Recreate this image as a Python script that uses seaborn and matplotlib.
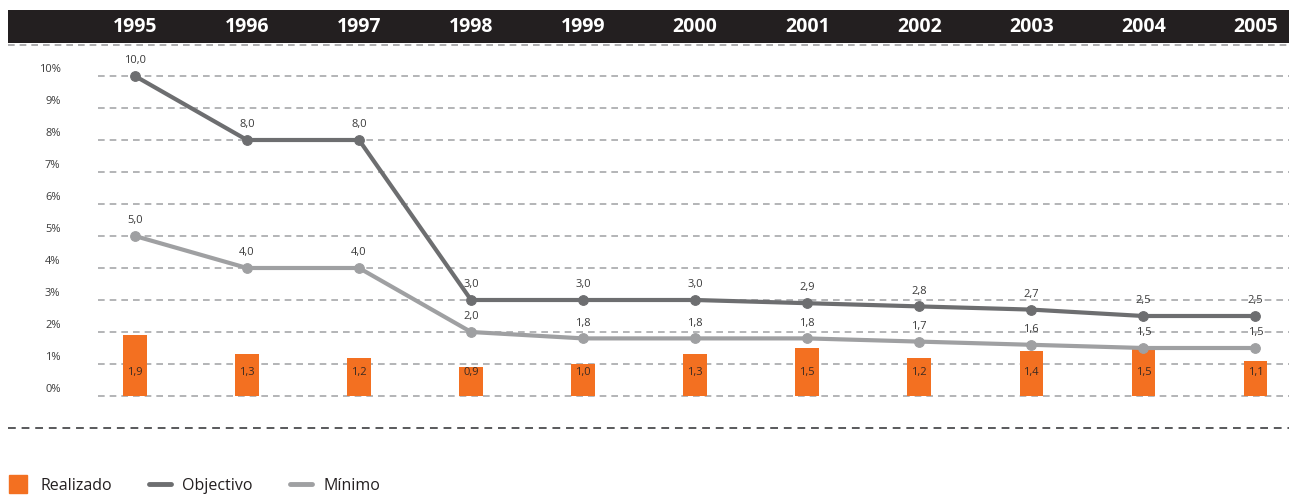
import matplotlib
matplotlib.use("Agg")
import matplotlib.pyplot as plt
import matplotlib.transforms as mtransforms
from matplotlib.lines import Line2D
from matplotlib.patches import Rectangle
import seaborn as sns
import pandas as pd

years = ["1995", "1996", "1997", "1998", "1999", "2000", "2001", "2002", "2003", "2004", "2005"]
realizado = [1.9, 1.3, 1.2, 0.9, 1.0, 1.3, 1.5, 1.2, 1.4, 1.5, 1.1]
objectivo = [10.0, 8.0, 8.0, 3.0, 3.0, 3.0, 2.9, 2.8, 2.7, 2.5, 2.5]
minimo = [5.0, 4.0, 4.0, 2.0, 1.8, 1.8, 1.8, 1.7, 1.6, 1.5, 1.5]
ytick_vals = [0, 1, 2, 3, 4, 5, 6, 7, 8, 9, 10]
ytick_labels = [f"{v}%" for v in ytick_vals]

ORANGE = "#F37021"
DARK = "#6D6E70"
LIGHT = "#9FA0A2"
HEADER = "#231F20"

sns.set_theme(style="white")
plt.rcParams["font.family"] = ["Open Sans", "DejaVu Sans"]

W, H = 1289, 495
fig = plt.figure(figsize=(W / 100, H / 100), dpi=100)
# axes: x from px 98 to 1289, y from px 44 to 428
ax = fig.add_axes([98 / W, 1 - 428 / H, (1289 - 98) / W, (428 - 44) / H])
ax.set_facecolor("none")

df = pd.DataFrame({"ano": years, "Realizado": realizado,
                   "Objectivo": objectivo, "Mínimo": minimo})
df["idx"] = range(len(years))

# grid lines
for v in ytick_vals:
    ax.axhline(v, color="#A7A8AA", lw=1.2, ls=(0, (4, 3)), zorder=0)

sns.barplot(data=df, x="ano", y="Realizado", color=ORANGE, width=0.21,
            saturation=1, ax=ax, zorder=2)
for p in ax.patches:
    p.set_edgecolor("none")

sns.lineplot(data=df, x="idx", y="Objectivo", color=DARK, lw=3, marker="o",
             markersize=7, markeredgecolor=DARK, ax=ax, zorder=3)
sns.lineplot(data=df, x="idx", y="Mínimo", color=LIGHT, lw=3, marker="o",
             markersize=7, markeredgecolor=LIGHT, ax=ax, zorder=3)

for i, v in enumerate(realizado):
    ax.text(i, 0.75, f"{v:.1f}".replace(".", ","), ha="center", va="center",
            fontsize=8, color="#3A2A22", zorder=4)
for vals in (objectivo, minimo):
    for i, v in enumerate(vals):
        ax.annotate(f"{v:.1f}".replace(".", ","), (i, v), xytext=(0, 7),
                    textcoords="offset points", ha="center", va="bottom",
                    fontsize=8, color="#3A3A3A", zorder=4)

ax.set_xlim(-0.33, 10.30)
ax.set_ylim(-1, 11)
ax.set_yticks(ytick_vals)
ax.set_yticklabels(ytick_labels, fontsize=8, color="#3A3A3A")
ax.tick_params(axis="y", length=0, pad=27)
up = mtransforms.ScaledTranslation(0, 8 / 100, fig.dpi_scale_trans)
for lab in ax.get_yticklabels():
    lab.set_horizontalalignment("right")
    lab.set_transform(lab.get_transform() + up)
ax.set_xticks([])
ax.set_xlabel("")
ax.set_ylabel("")
for s in ax.spines.values():
    s.set_visible(False)

# header band
fig.patches.append(Rectangle((8 / W, 1 - 43 / H), (W - 8) / W, 33 / H,
                             transform=fig.transFigure, facecolor=HEADER,
                             edgecolor="none", zorder=0))
trans = mtransforms.blended_transform_factory(ax.transData, fig.transFigure)
for i, y in enumerate(years):
    fig.text(i, 1 - 27 / H, y, transform=trans, ha="center", va="center",
             fontsize=14, fontweight="bold", color="white", zorder=5)

# dashed separator lines
fig.add_artist(Line2D([8 / W, 1], [1 - 45 / H, 1 - 45 / H], transform=fig.transFigure,
                      color="#9FA0A2", lw=1.2, ls=(0, (4, 3))))
fig.add_artist(Line2D([8 / W, 1], [1 - 428 / H, 1 - 428 / H], transform=fig.transFigure,
                      color="#58595B", lw=1.4, ls=(0, (4, 3))))

# legend
handles = [
    Line2D([], [], ls="none", marker="s", markersize=13, markerfacecolor=ORANGE,
           markeredgecolor=ORANGE),
    Line2D([], [], color=DARK, lw=3.5),
    Line2D([], [], color=LIGHT, lw=3.5),
]
fig.legend(handles, ["Realizado", "Objectivo", "Mínimo"], loc="lower left",
           bbox_to_anchor=(7 / W, 1 / H), ncol=3, frameon=False, fontsize=11.5,
           handlelength=1.4, columnspacing=2.3, handletextpad=0.7,
           borderpad=0, borderaxespad=0, labelcolor="#231F20")

fig.savefig("out.png", dpi=100)
